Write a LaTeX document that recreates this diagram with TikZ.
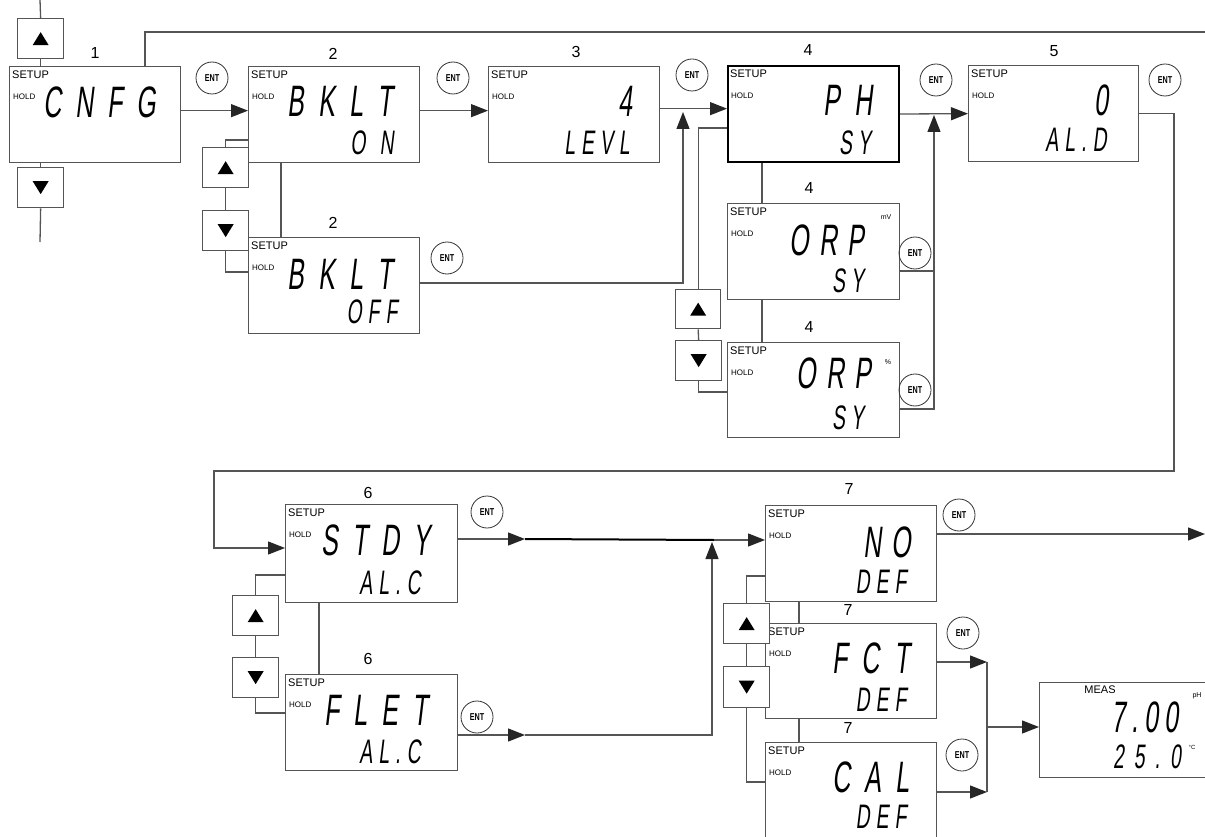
\documentclass[tikz,border=0pt]{standalone}
\usepackage{fontspec}
\setmainfont{Liberation Sans}
\newfontfamily\lcdfont[FakeStretch=0.57,FakeSlant=0.12]{Liberation Sans}
\newfontfamily\entfont[FakeStretch=0.72]{Liberation Sans}
\usepackage{xcolor}
\usetikzlibrary{arrows.meta}

\definecolor{linegray}{HTML}{555555}
\newcommand\segwide{\hspace{14pt}}
\newcommand\segmid{\hspace{10pt}}
\newcommand\segnar{\hspace{6pt}}

\begin{document}
\begin{tikzpicture}[x=1pt, y=-1pt,
    lcdbox/.style={draw=linegray, line width=1.3pt, anchor=north west,
        minimum width=171pt, minimum height=96pt, inner sep=0pt},
    keybox/.style={draw=linegray, fill=white, line width=1.3pt, anchor=north west,
        minimum width=46pt, minimum height=40pt, inner sep=0pt},
    entkey/.style={draw=black!80, line width=0.8pt, circle, minimum size=32pt,
        inner sep=0pt, font=\entfont\bfseries\fontsize{10}{10}\selectfont},
    link/.style={draw=linegray, line width=1.3pt},
    arr/.style={link, -{Triangle[length=17pt, width=13pt, color=black!85]}},
    segbig/.style={font=\lcdfont\fontsize{44}{44}\selectfont, inner sep=0pt},
    segsmall/.style={font=\lcdfont\fontsize{34}{34}\selectfont, inner sep=0pt},
    setuptxt/.style={anchor=west, inner sep=0pt, font=\fontsize{11}{11}\selectfont},
    holdtxt/.style={anchor=west, inner sep=0pt, font=\fontsize{8}{8}\selectfont},
    unittxt/.style={inner sep=0pt, font=\fontsize{7}{7}\selectfont},
    stepno/.style={inner sep=0pt, font=\fontsize{16}{16}\selectfont},
]
    \clip (0,0) rectangle (1205,837);

    % =================================================================
    % 1. DISPLAY BOXES
    % =================================================================
    \node[lcdbox] (cnfg) at (9,66) {};
    \node[lcdbox] (bklton) at (248,66) {};
    \node[lcdbox] (bkltoff) at (248,237) {};
    \node[lcdbox] (levl) at (488,66) {};
    \node[lcdbox, draw=black, line width=2pt] (ph) at (727,65) {};
    \node[lcdbox, minimum width=172pt] (orpmv) at (727,203) {};
    \node[lcdbox, minimum width=172pt, minimum height=95pt] (orppct) at (727,342) {};
    \node[lcdbox, minimum width=170pt] (ald) at (968,65) {};
    \node[lcdbox, minimum width=172pt, minimum height=98pt] (stdy) at (285,504) {};
    \node[lcdbox, minimum width=172pt] (flet) at (285,674) {};
    \node[lcdbox] (nodef) at (765,505) {};
    \node[lcdbox, minimum height=95pt] (fctdef) at (765,623) {};
    \node[lcdbox, minimum height=100pt] (caldef) at (765,742) {};
    \node[lcdbox, minimum height=95pt] (meas) at (1039,682) {};

    % SETUP / HOLD in every setup screen
    \foreach \b in {cnfg,bklton,bkltoff,levl,ph,orpmv,orppct,ald,stdy,flet,nodef,fctdef,caldef} {
        \node[setuptxt] at ([shift={(3,9)}]\b.north west) {SETUP};
        \node[holdtxt] at ([shift={(4,31)}]\b.north west) {HOLD};
    }

    % =================================================================
    % 2. STEP NUMBERS
    % =================================================================
    \node[stepno] at (95,53) {1};
    \node[stepno] at (333,54) {2};
    \node[stepno] at (333,223) {2};
    \node[stepno] at (576,52) {3};
    \node[stepno] at (808,50) {4};
    \node[stepno] at (809,188) {4};
    \node[stepno] at (809,327) {4};
    \node[stepno] at (1054,51) {5};
    \node[stepno] at (368,493) {6};
    \node[stepno] at (368,659) {6};
    \node[stepno] at (849,489) {7};
    \node[stepno] at (848,610) {7};
    \node[stepno] at (848,728) {7};

    % =================================================================
    % 3. SEGMENT TEXTS
    % =================================================================
    \node[segbig] at (100,102) {C\segwide N\segwide F\segwide G};
    \node[segbig] at (340,101) {B\segwide K\segwide L\segwide T};
    \node[segsmall] at (372,143) {O\segwide N};
    \node[segbig] at (340,274) {B\segwide K\segwide L\segwide T};
    \node[segsmall] at (372,312) {O\segnar F\segnar F};
    \node[segbig] at (625,101) {4};
    \node[segsmall] at (597,143) {L\segnar E\segnar V\segnar L};
    \node[segbig] at (848,100) {P\segwide H};
    \node[segsmall] at (855,143) {S\segnar Y};
    \node[segbig] at (827,240) {O\segmid R\segmid P};
    \node[segsmall] at (848,281) {S\segnar Y};
    \node[segbig] at (834,373) {O\segmid R\segmid P};
    \node[segsmall] at (848,418) {S\segnar Y};
    \node[segbig] at (1101,100) {0};
    \node[segsmall] at (1076,140) {A\segnar L\segnar .\segnar D};
    \node[segbig] at (376,540) {S\segwide T\segwide D\segwide Y};
    \node[segsmall] at (390,583) {A\segnar L\segnar .\segnar C};
    \node[segbig] at (376,710) {F\segwide L\segwide E\segwide T};
    \node[segsmall] at (390,752) {A\segnar L\segnar .\segnar C};
    \node[segbig] at (887,542) {N\segmid O};
    \node[segsmall] at (881,582) {D\segnar E\segnar F};
    \node[segbig] at (871,658) {F\segwide C\segwide T};
    \node[segsmall] at (881,700) {D\segnar E\segnar F};
    \node[segbig] at (871,777) {C\segwide A\segwide L};
    \node[segsmall] at (881,817) {D\segnar E\segnar F};

    % units and measuring screen
    \node[unittxt] at (886,217) {mV};
    \node[unittxt] at (888,362) {\%};
    \node[setuptxt, anchor=center] at (1100,690) {MEAS};
    \node[unittxt] at (1197,696) {pH};
    \node[unittxt, font=\fontsize{6}{6}\selectfont] at (1192,747) {°C};
    \node[segbig] at (1145,717) {7\segnar .\segnar 0\segnar 0};
    \node[segsmall] at (1147,757) {2\segmid 5\segmid .\segmid 0};

    % =================================================================
    % 4. ENT KEYS
    % =================================================================
    \node[entkey] (ent1) at (212,78) {ENT};
    \node[entkey] (ent2) at (453,78) {ENT};
    \node[entkey] (ent2b) at (447,258) {ENT};
    \node[entkey] (ent3) at (692,75) {ENT};
    \node[entkey] (ent4) at (936,80) {ENT};
    \node[entkey] (ent4b) at (915,253) {ENT};
    \node[entkey] (ent4c) at (915,390) {ENT};
    \node[entkey] (ent5) at (1165,80) {ENT};
    \node[entkey] (ent6) at (487,512) {ENT};
    \node[entkey] (ent6b) at (477,717) {ENT};
    \node[entkey] (ent7) at (959,515) {ENT};
    \node[entkey] (ent7b) at (963,633) {ENT};
    \node[entkey] (ent7c) at (962,755) {ENT};

    % =================================================================
    % 5. UP / DOWN KEYS
    % =================================================================
    \node[keybox] (up1) at (17,18) {};
    \node[keybox] (dn1) at (17,167) {};
    \node[keybox] (up2) at (202,147) {};
    \node[keybox] (dn2) at (202,210) {};
    \node[keybox, minimum width=45pt, minimum height=39pt] (up4) at (675,289) {};
    \node[keybox] (dn4) at (675,340) {};
    \node[keybox] (up6) at (232,595) {};
    \node[keybox] (dn6) at (232,657) {};
    \node[keybox] (up7) at (723,603) {};
    \node[keybox, minimum height=41pt] (dn7) at (723,666) {};

    \foreach \k in {up1,up2,up4,up6,up7}
        \fill (\k.center) +(-8,6.5) -- +(8,6.5) -- +(0,-6.5) -- cycle;
    \foreach \k in {dn1,dn2,dn4,dn6,dn7}
        \fill (\k.center) +(-8,-6.5) -- +(8,-6.5) -- +(0,6.5) -- cycle;

    % =================================================================
    % 6. CONNECTORS
    % =================================================================
    % step 1 and the return line
    \coordinate (topin) at (40,0);
    \coordinate (botout) at (40,242);
    \coordinate (fbl) at (145,32);
    \coordinate (fbr) at (1205,32);
    \draw[link] (cnfg.north -| fbl) -- (fbl) -- (fbr);
    \draw[arr] ([yshift=4pt]cnfg.east) -- ([yshift=4pt]bklton.west);
    \draw[link] (topin) -- (up1.north);
    \draw[link] (up1.south) -- (cnfg.north -| up1.south);
    \draw[link] (cnfg.south -| dn1.north) -- (dn1.north);
    \draw[link] (dn1.south) -- (botout);

    % step 2
    \draw[arr] ([yshift=4pt]bklton.east) -- ([yshift=4pt]levl.west);
    \draw[link] ([xshift=33pt]bklton.south west) -- ([xshift=33pt]bkltoff.north west);
    \draw[link] ([yshift=-74pt]bklton.north west) -| (up2.north);
    \draw[link] (up2.south) -- (dn2.north);
    \draw[link] (dn2.south) |- ([yshift=-35pt]bkltoff.north west);
    \coordinate (j4) at (683,112);
    \draw[arr] ([yshift=-46pt]bkltoff.north east) -| (j4);

    % step 3
    \coordinate (in4) at ([yshift=6pt]levl.east);
    \draw[arr] (in4) -- (in4 -| ph.west);

    % step 4
    \draw[link] ([xshift=35pt]ph.south west) -- ([xshift=35pt]orpmv.north west);
    \draw[link] ([xshift=35pt]orpmv.south west) -- ([xshift=35pt]orppct.north west);
    \draw[link] ([yshift=-63pt]ph.north west) -| (up4.north);
    \draw[link] (up4.south) -- (dn4.north);
    \draw[link] (dn4.south) |- ([yshift=-50pt]orppct.north west);
    \coordinate (j5) at (934,115);
    \coordinate (mvout) at ([yshift=-68pt]orpmv.north east);
    \draw[link] (mvout) -- (mvout -| j5);
    \draw[arr] ([yshift=-67pt]orppct.north east) -| (j5);
    \draw[arr] (ph.east) -- (ald.west);

    % step 5 down to step 6
    \coordinate (r5) at (1174,471);
    \coordinate (l6) at (214,471);
    \draw[arr] (ald.east) -| (r5) -- (l6) |- ([yshift=-44pt]stdy.north west);

    % step 6
    \coordinate (m6) at (525,539);
    \coordinate (m6b) at (525,735);
    \coordinate (j7) at (714,540);
    \coordinate (j7b) at (712,542);
    \draw[arr] ([yshift=-35pt]stdy.north east) -- (m6);
    \draw[line width=2pt] (m6) -- (j7);
    \draw[arr] (j7) -- ([yshift=-35pt]nodef.north west);
    \draw[arr] ([yshift=-61pt]flet.north east) -- (m6b);
    \draw[arr] (m6b) -| (j7b);
    \draw[link] ([xshift=34pt]stdy.south west) -- ([xshift=34pt]flet.north west);
    \draw[link] ([yshift=-71pt]stdy.north west) -| (up6.north);
    \draw[link] (up6.south) -- (dn6.north);
    \draw[link] (dn6.south) |- ([yshift=-39pt]flet.north west);

    % step 7
    \coordinate (out7) at (1205,534);
    \coordinate (m7a) at (987,662);
    \coordinate (m7b) at (987,792);
    \coordinate (m7) at (987,727);
    \draw[arr] ([yshift=-29pt]nodef.north east) -- (out7);
    \draw[link] ([xshift=34pt]nodef.south west) -- ([xshift=34pt]fctdef.north west);
    \draw[link] ([xshift=34pt]fctdef.south west) -- ([xshift=34pt]caldef.north west);
    \draw[link] ([yshift=-71pt]nodef.north west) -| (up7.north);
    \draw[link] (up7.south) -- (dn7.north);
    \draw[link] (dn7.south) |- ([yshift=-40pt]caldef.north west);
    \draw[arr] ([yshift=-39pt]fctdef.north east) -- (m7a);
    \draw[arr] ([yshift=-50pt]caldef.north east) -- (m7b);
    \draw[link] (m7a) -- (m7b);
    \draw[arr] (m7) -- (m7 -| meas.west);

\end{tikzpicture}
\end{document}
